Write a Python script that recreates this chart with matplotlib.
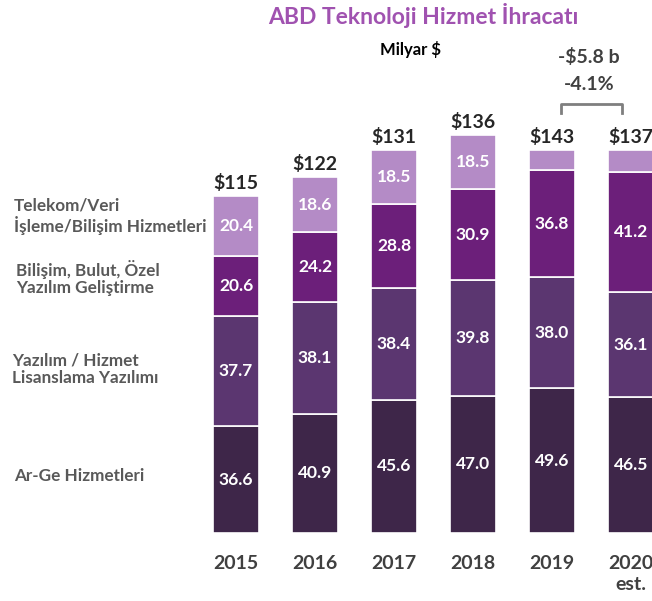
import numpy as np
from matplotlib import pyplot as plt

plt.rcParams["font.family"] = ["Lato", "DejaVu Sans"]

years = ["2015", "2016", "2017", "2018", "2019", "2020\nest."]
totals = ["$115", "$122", "$131", "$136", "$143", "$137"]
arge = [36.6, 40.9, 45.6, 47.0, 49.6, 46.5]
lisans = [37.7, 38.1, 38.4, 39.8, 38.0, 36.1]
bulut = [20.6, 24.2, 28.8, 30.9, 36.8, 41.2]
telekom = [20.4, 18.6, 18.5, 18.5, 6.7, 7.3]
telekom_lbl = ["20.4", "18.6", "18.5", "18.5", "", ""]

series = [arge, lisans, bulut, telekom]
colors = ["#3e2649", "#5b3670", "#6c1f7a", "#b48bc6"]
cat_labels = ["Ar-Ge Hizmetleri", "Yazılım / Hizmet\nLisanslama Yazılımı",
              "Bilişim, Bulut, Özel\nYazılım Geliştirme",
              "Telekom/Veri\nİşleme/Bilişim Hizmetleri"]

W, H = 652, 601
fig = plt.figure(figsize=(W / 100, H / 100), dpi=100)
# axes placed in pixel terms: bar 0 centred at x=236, 79 px per bar, base at y=533
ax = fig.add_axes([196.5 / W, (H - 533) / H, (W - 196.5) / W, 467 / H])
ax.set_xlim(-0.5, (W - 196.5) / 79 - 0.5)
ax.set_ylim(0, 160)
ax.axis("off")

x = np.arange(len(years))
bottom = np.zeros(len(years))
for i, (vals, c) in enumerate(zip(series, colors)):
    vals = np.array(vals)
    ax.bar(x, vals, 0.57, bottom=bottom, color=c, edgecolor="white", linewidth=1.2, clip_on=False)
    for xi, b, v in zip(x, bottom, vals):
        txt = telekom_lbl[xi] if i == 3 else f"{v:.1f}"
        if txt:
            ax.text(xi, b + v / 2, txt, ha="center", va="center", color="white",
                    fontsize=12.5, fontweight="bold")
    bottom += vals

for xi, top, t in zip(x, bottom, totals):
    ax.annotate(t, (xi, top), xytext=(0, 3), textcoords="offset points",
                ha="center", va="bottom", fontsize=14, fontweight="bold", color="#262626")

for xi, y in zip(x, years):
    ax.annotate(y, (xi, 0), xytext=(0, -16), textcoords="offset points", ha="center",
                va="top", fontsize=14, fontweight="bold", color="#404040", linespacing=1.3)

# category labels on the left
label_y = [476, 369, 278, 216]
label_x = [14, 12, 16, 14]
for lbl, lx, ly in zip(cat_labels, label_x, label_y):
    fig.text(lx / W, 1 - ly / H, lbl, ha="left", va="center", fontsize=12.3,
             fontweight="bold", color="#595959", linespacing=1.15)

fig.text(423 / W, 1 - 16 / H, "ABD Teknoloji Hizmet İhracatı", ha="center", va="center",
         fontsize=16.5, fontweight="bold", color="#a052b0")
fig.text(410 / W, 1 - 49 / H, "Milyar $", ha="center", va="center", fontsize=12,
         fontweight="bold", color="black")
fig.text(589 / W, 1 - 57 / H, "-$5.8 b", ha="center", va="center", fontsize=14,
         fontweight="bold", color="#404040")
fig.text(589 / W, 1 - 84 / H, "-4.1%", ha="center", va="center", fontsize=14,
         fontweight="bold", color="#404040")

# bracket between 2019 and 2020
bx = [561 / W, 561 / W, 622 / W, 622 / W]
by = [1 - 113 / H, 1 - 104 / H, 1 - 104 / H, 1 - 113 / H]
fig.add_artist(plt.Line2D(bx, by, color="#7f7f7f", linewidth=2))

fig.savefig("out.png", dpi=100)
